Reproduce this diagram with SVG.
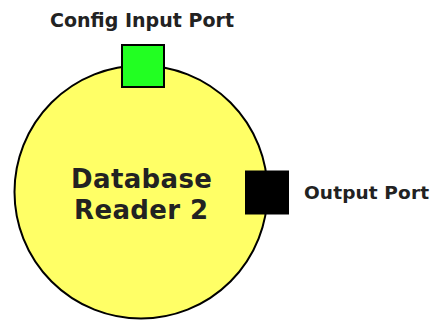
<svg xmlns="http://www.w3.org/2000/svg" width="433" height="320" viewBox="0 0 433 320">
<style>
.lbl{font-family:"DejaVu Sans",sans-serif;font-weight:bold;fill:#222;}
.port{stroke:#000;stroke-width:2;}
</style>
<rect width="433" height="320" fill="#fff"/>
<g id="connectors"></g>
<g id="node-db">
<circle cx="141" cy="192" r="126.5" fill="#ffff66" stroke="#000" stroke-width="2"/>
<text class="lbl" x="71" y="188" font-size="26" textLength="141" lengthAdjust="spacing">Database</text>
<text class="lbl" x="74" y="219" font-size="26" textLength="134" lengthAdjust="spacing">Reader 2</text>
</g>
<g id="port-config">
<rect class="port" x="122" y="45" width="42" height="42" fill="#22ff22"/>
<text class="lbl" x="50" y="27" font-size="19" textLength="184" lengthAdjust="spacing">Config Input Port</text>
</g>
<g id="port-output">
<rect class="port" x="246" y="171.5" width="42" height="42" fill="#000"/>
<text class="lbl" x="304" y="199" font-size="18.5" textLength="125" lengthAdjust="spacing">Output Port</text>
</g>
</svg>
